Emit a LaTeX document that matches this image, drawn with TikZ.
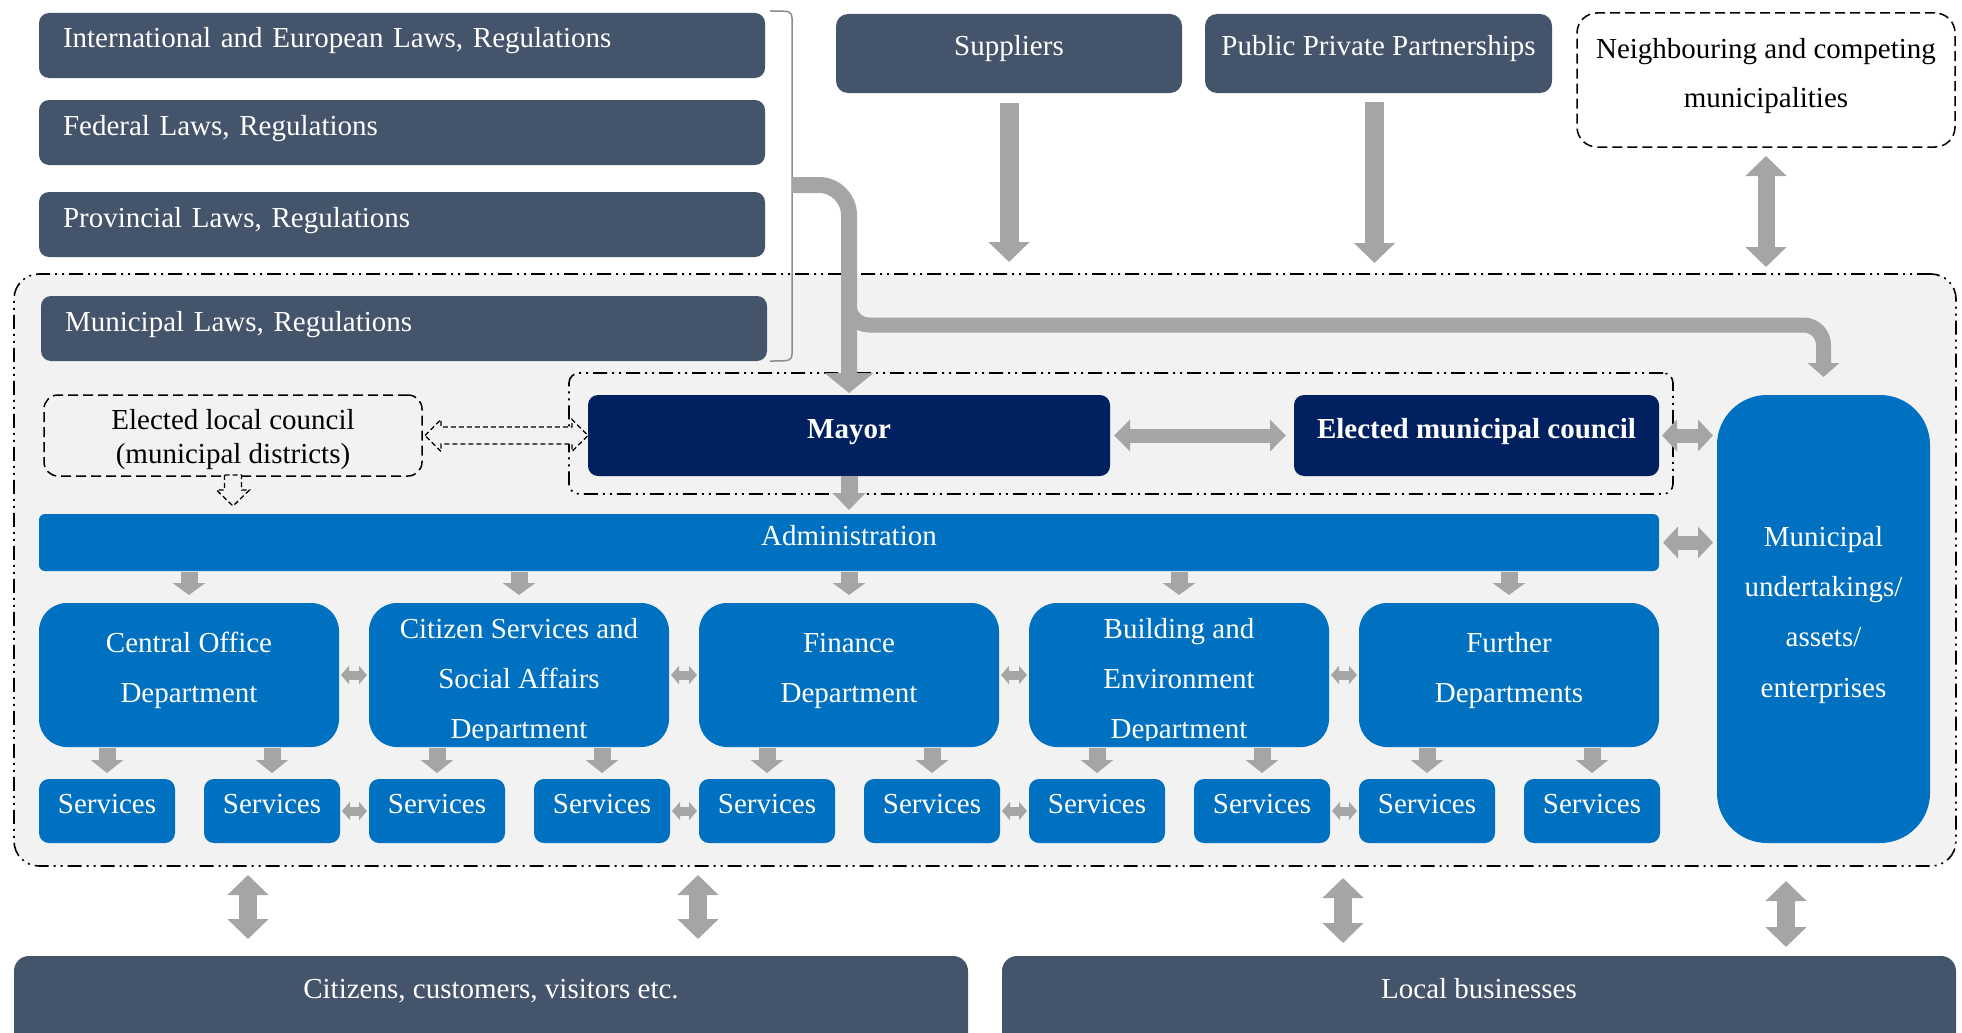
\documentclass[tikz,border=0pt]{standalone}
\usepackage{fontspec}
\setmainfont{Liberation Serif}
\usetikzlibrary{arrows.meta}
\definecolor{slate}{HTML}{44546A}
\definecolor{navy}{HTML}{002060}
\definecolor{mblue}{HTML}{0070C0}
\definecolor{agray}{HTML}{A5A5A5}
\definecolor{bggray}{HTML}{F2F2F2}
\definecolor{brgray}{HTML}{8C8C8C}
\begin{document}
\begin{tikzpicture}[x=1pt,y=-1pt,
  every node/.style={inner sep=0pt,outer sep=0pt},
  lbl/.style={font=\fontsize{29}{35}\selectfont, text height=12pt, text depth=7pt},
  lawbox/.style={lbl, fill=slate, text=white, rounded corners=10pt, anchor=north west,
     minimum width=726pt, minimum height=65pt, text width=678pt, inner xsep=24pt, align=left},
  topbox/.style={lbl, fill=slate, text=white, rounded corners=12pt, anchor=north west, minimum height=79pt},
  navybox/.style={lbl, font=\fontsize{29}{35}\selectfont\bfseries, fill=navy, text=white,
     rounded corners=10pt, anchor=north west, minimum height=81pt},
  deptbox/.style={fill=mblue, rounded corners=28pt, anchor=north west, minimum width=300pt, minimum height=144pt},
  depttext/.style={font=\fontsize{29}{50}\selectfont, text=white, align=center},
  svcbox/.style={lbl, fill=mblue, text=white, rounded corners=10pt, anchor=north west,
     minimum width=136pt, minimum height=64pt},
  regionline/.style={draw=black, line width=1.6pt,
     dash pattern=on 14pt off 5pt on 2pt off 5pt on 2pt off 5pt},
  dashbox/.style={draw=black, line width=1.5pt, dash pattern=on 10pt off 5pt, anchor=north west,
     font=\fontsize{29}{35}\selectfont, align=center},
  hollow/.style={draw=black, line width=1.3pt, dash pattern=on 5pt off 3pt, fill=bggray},
  bigarr/.style={agray, line width=19pt, -{Triangle[length=20pt,width=40pt]}},
  bigdbl/.style={agray, line width=18pt, {Triangle[length=20pt,width=40pt]}-{Triangle[length=20pt,width=40pt]}},
  meddbl/.style={agray, line width=14pt, {Triangle[length=15pt,width=31pt]}-{Triangle[length=15pt,width=31pt]}},
  downarr/.style={agray, line width=17pt, -{Triangle[length=#1,width=32pt]}},
  smalldbl/.style={agray, line width=9pt, {Triangle[length=8pt,width=18pt]}-{Triangle[length=8pt,width=18pt]},
     shorten <=2pt, shorten >=2pt}
]
\clip (0,0) rectangle (1962,1033);

% outer municipal region
\node[regionline, fill=bggray, rounded corners=25pt, anchor=north west,
      minimum width=1942pt, minimum height=592pt] (region) at (14,274) {};

% laws
\node[lawbox] (law1) at (39,13) {International and European Laws, Regulations};
\node[lawbox] (law2) at (39,100) {Federal Laws, Regulations};
\node[lawbox] (law3) at (39,192) {Provincial Laws, Regulations};
\node[lawbox] (law4) at (41,296) {Municipal Laws, Regulations};
\draw[brgray, line width=1.5pt] (770,11) .. controls (791,11) .. (792,18) -- (792,354)
   .. controls (791,361) .. (770,361);
\coordinate (br) at (792,185);

% top boxes
\node[topbox, minimum width=346pt] (sup) at (836,14) {Suppliers};
\node[topbox, minimum width=347pt] (ppp) at (1205,14) {Public Private Partnerships};
\node[dashbox, rounded corners=20pt, minimum width=378pt, minimum height=134pt,
      font=\fontsize{29}{49}\selectfont, text height=60pt, text depth=6pt] (nb) at (1577,13)
      {Neighbouring and competing\\municipalities};

% mayor group
\node[regionline, rounded corners=10pt, anchor=north west, minimum width=1104pt, minimum height=121pt]
      (mgrp) at (569,373) {};
\node[navybox, minimum width=522pt] (mayor) at (588,395) {Mayor};
\node[navybox, minimum width=365pt] (council) at (1294,395) {Elected municipal council};
\node[dashbox, rounded corners=14pt, minimum width=378pt, minimum height=81pt,
      font=\fontsize{29}{34}\selectfont, text height=60pt, text depth=5pt] (elc) at (44,395)
      {Elected local council\\(municipal districts)};

% administration and municipal undertakings
\node[lbl, fill=mblue, text=white, rounded corners=6pt, anchor=north west,
      minimum width=1620pt, minimum height=57pt] (admin) at (39,514) {Administration};
\node[fill=mblue, text=white, rounded corners=50pt, anchor=north west, minimum width=213pt,
      minimum height=448pt, font=\fontsize{29}{50.3}\selectfont, align=center,
      text height=160pt, text depth=4pt] (muni) at (1717,395)
      {Municipal\\undertakings/\\assets/\\enterprises};

% departments
\node[deptbox] (d1) at (39,603) {};
\node[deptbox] (d2) at (369,603) {};
\node[deptbox] (d3) at (699,603) {};
\node[deptbox] (d4) at (1029,603) {};
\node[deptbox] (d5) at (1359,603) {};
\node[depttext, text height=60pt, text depth=6pt] (t1) at (d1.center) {Central Office\\Department};
\node[depttext, text height=60pt, text depth=6pt] (t3) at (d3.center) {Finance\\Department};
\node[depttext, text height=60pt, text depth=6pt] (t5) at (d5.center) {Further\\Departments};
\begin{scope}
  \clip (369,600) rectangle (1330,740);
  \node[depttext, text height=130pt, text depth=4pt] (t2) at (d2.center) {Citizen Services and\\Social Affairs\\Department};
  \node[depttext, text height=130pt, text depth=4pt] (t4) at (d4.center) {Building and\\Environment\\Department};
\end{scope}

% services
\foreach \i/\x in {1/39,2/369,3/699,4/1029,5/1359}{
  \node[svcbox] (sa\i) at (\x,779) {Services};
  \node[svcbox] (sb\i) at (\x+165,779) {Services};
}

% bottom boxes
\node[lbl, fill=slate, text=white, rounded corners=15pt, anchor=north west, minimum width=954pt,
      minimum height=100pt, text height=4pt, text depth=20pt] (cit) at (14,956)
      {Citizens, customers, visitors etc.};
\node[lbl, fill=slate, text=white, rounded corners=15pt, anchor=north west, minimum width=954pt,
      minimum height=100pt, text height=4pt, text depth=20pt] (biz) at (1002,956)
      {Local businesses};

% ---- connectors ----
\draw[agray, line width=16pt, rounded corners=30pt, -{Triangle[length=20pt,width=48pt]}, shorten >=2pt]
   (br) -- (br -| mayor.north) -- (mayor.north);
\coordinate (brj) at (849,325);
\draw[agray, line width=15pt, rounded corners=20pt, -{Triangle[length=14pt,width=31pt]}, shorten >=18pt]
   (849,300) -- (brj) -- (brj -| muni.north) -- (muni.north);

\draw[bigarr, shorten <=10pt, shorten >=12pt] (sup.south) -- (sup.south |- region.north);
\draw[bigarr, shorten <=9pt, shorten >=11pt] ([xshift=-4pt]ppp.south) -- ([xshift=-4pt]ppp.south |- region.north);
\draw[bigdbl, line width=17pt, shorten <=9pt, shorten >=7pt] (nb.south) -- (nb.south |- region.north);

\draw[meddbl, {Triangle[length=16pt,width=31pt]}-{Triangle[length=16pt,width=31pt]}, shorten <=4pt, shorten >=8pt]
   (mayor) -- (council);
\draw[meddbl, shorten <=3pt, shorten >=4pt] (council.east) -- (council.east -| muni.west);
\draw[meddbl, shorten <=4pt, shorten >=4pt] (admin.east) -- (admin.east -| muni.west);
\draw[downarr=17pt, shorten >=4pt] (mayor.south) -- (mayor.south |- admin.north);

% hollow dashed arrows of the elected local council
\begin{scope}[shift={(elc.east)}]
  \draw[hollow] (3,0) -- (19,-16) -- (19,-8.5) -- (150,-8.5) -- (150,-16) -- (166,0)
     -- (150,16) -- (150,8.5) -- (19,8.5) -- (19,16) -- cycle;
\end{scope}
\begin{scope}[shift={(elc.south)}]
  \draw[hollow] (-8.5,-1) -- (8.5,-1) -- (8.5,14) -- (16.5,14) -- (0,30) -- (-16.5,14)
     -- (-8.5,14) -- cycle;
\end{scope}

\foreach \i in {1,...,5}{
  \draw[downarr=12pt, shorten <=1pt, shorten >=8pt] (d\i.north |- admin.south) -- (d\i.north);
  \draw[downarr=13pt, shorten <=1pt, shorten >=6pt] (sa\i.north |- d\i.south) -- (sa\i.north);
  \draw[downarr=13pt, shorten <=1pt, shorten >=6pt] (sb\i.north |- d\i.south) -- (sb\i.north);
}
\foreach \i/\j in {1/2,2/3,3/4,4/5}{
  \draw[smalldbl] (d\i) -- (d\j);
  \draw[smalldbl] (sb\i) -- (sa\j);
}

\coordinate (b1) at (248,0);
\coordinate (b2) at (698,0);
\coordinate (b3) at (1343,0);
\coordinate (b4) at (1786,0);
\draw[bigdbl, shorten <=9pt, shorten >=17pt] (b1 |- region.south) -- (b1 |- cit.north);
\draw[bigdbl, shorten <=9pt, shorten >=17pt] (b2 |- region.south) -- (b2 |- cit.north);
\draw[bigdbl, shorten <=12pt, shorten >=13pt] (b3 |- region.south) -- (b3 |- biz.north);
\draw[bigdbl, shorten <=15pt, shorten >=9pt] (b4 |- region.south) -- (b4 |- biz.north);
\end{tikzpicture}
\end{document}
